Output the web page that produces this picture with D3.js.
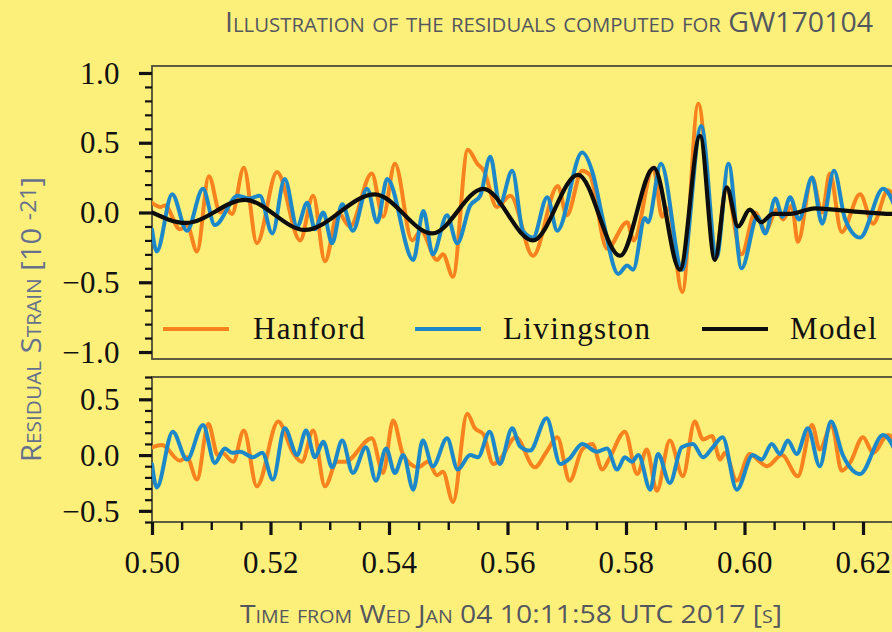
<!DOCTYPE html>
<html><head><meta charset="utf-8">
<script src="https://cdn.jsdelivr.net/npm/d3@7/dist/d3.min.js"></script>
<style>
html,body{margin:0;padding:0;background:#fbef7b;}
svg{display:block;}
</style></head><body>
<svg id="chart" width="892" height="632"></svg>
<script>
// ---------- DATA ----------
const titleText = "Illustration of the residuals computed for GW170104";
const xLabelText = "Time from Wed Jan 04 10:11:58 UTC 2017 [s]";
const seriesNames = ["Hanford", "Livingston", "Model"];

const xMajorTicks = [0.50, 0.52, 0.54, 0.56, 0.58, 0.60, 0.62];
const topMajorTicks = [-1.0, -0.5, 0.0, 0.5, 1.0];
const bottomMajorTicks = [-0.5, 0.0, 0.5];

// [time (s), strain (1e-21)]
const modelTop = [[0.5000,0.00],[0.5057,-0.075],[0.5157,0.09],[0.5258,-0.125],[0.5376,0.13],[0.5473,-0.15],[0.5559,0.17],[0.5643,-0.20],[0.5719,0.27],[0.5790,-0.31],[0.5847,0.32],[0.5891,-0.41],[0.5925,0.55],[0.5950,-0.34],[0.5970,0.18],[0.5989,-0.10],[0.6009,0.02],[0.6028,-0.07],[0.6048,-0.01],[0.6077,-0.01],[0.6119,0.03],[0.6178,0.01],[0.6249,-0.01],[0.6300,-0.01]];

const hanfordTop = [[0.5000,0.07],[0.5014,0.04],[0.5022,0.05],[0.5047,-0.12],[0.5059,-0.09],[0.5076,-0.28],[0.5096,0.26],[0.5115,0.00],[0.5123,0.04],[0.5135,-0.01],[0.5155,0.32],[0.5177,-0.22],[0.5211,0.29],[0.5250,-0.20],[0.5272,0.12],[0.5292,-0.35],[0.5314,0.00],[0.5334,-0.10],[0.5371,0.28],[0.5390,-0.03],[0.5410,0.35],[0.5439,-0.20],[0.5454,-0.13],[0.5481,-0.34],[0.5491,-0.30],[0.5508,-0.46],[0.5533,0.45],[0.5549,0.35],[0.5560,0.30],[0.5582,0.04],[0.5605,0.12],[0.5643,-0.31],[0.5685,0.19],[0.5700,-0.02],[0.5726,0.30],[0.5739,0.27],[0.5768,-0.26],[0.5802,-0.07],[0.5813,-0.20],[0.5846,0.32],[0.5861,-0.03],[0.5871,0.03],[0.5895,-0.57],[0.5922,0.78],[0.5951,-0.32],[0.5969,0.18],[0.5995,-0.30],[0.6018,0.00],[0.6035,-0.13],[0.6055,0.02],[0.6065,-0.05],[0.6080,0.05],[0.6090,-0.21],[0.6114,0.25],[0.6131,0.00],[0.6144,0.28],[0.6164,-0.14],[0.6195,0.13],[0.6217,-0.08],[0.6242,0.16],[0.6262,0.00]];

const livingstonTop = [[0.5000,-0.12],[0.5008,-0.28],[0.5034,0.13],[0.5059,-0.13],[0.5086,0.17],[0.5106,-0.09],[0.5145,0.12],[0.5164,0.10],[0.5182,0.12],[0.5203,-0.15],[0.5224,0.24],[0.5245,-0.10],[0.5262,0.07],[0.5275,-0.12],[0.5289,0.00],[0.5304,-0.22],[0.5321,0.06],[0.5339,-0.13],[0.5363,0.17],[0.5380,-0.07],[0.5397,0.24],[0.5441,-0.34],[0.5458,0.01],[0.5474,-0.30],[0.5498,-0.02],[0.5515,-0.22],[0.5537,0.05],[0.5554,0.12],[0.5571,0.40],[0.5587,0.06],[0.5608,0.30],[0.5626,-0.13],[0.5643,-0.18],[0.5667,0.11],[0.5684,-0.13],[0.5726,0.43],[0.5744,0.28],[0.5761,-0.05],[0.5787,-0.44],[0.5802,-0.38],[0.5812,-0.41],[0.5832,-0.04],[0.5837,-0.07],[0.5859,0.35],[0.5895,-0.41],[0.5927,0.62],[0.5953,-0.32],[0.5973,0.35],[0.5995,-0.40],[0.6022,-0.03],[0.6035,-0.15],[0.6052,0.10],[0.6064,-0.03],[0.6077,0.11],[0.6092,-0.05],[0.6114,0.25],[0.6131,-0.08],[0.6151,0.30],[0.6170,-0.05],[0.6195,-0.18],[0.6234,0.17],[0.6262,-0.05]];

const hanfordRes = [[0.5000,0.07],[0.5017,0.09],[0.5047,-0.05],[0.5059,-0.02],[0.5076,-0.22],[0.5095,0.28],[0.5111,0.00],[0.5118,0.02],[0.5137,-0.06],[0.5155,0.22],[0.5177,-0.28],[0.5213,0.30],[0.5238,0.02],[0.5253,-0.06],[0.5272,0.22],[0.5292,-0.28],[0.5312,-0.06],[0.5326,-0.06],[0.5371,0.15],[0.5390,-0.16],[0.5407,0.31],[0.5424,0.00],[0.5449,-0.11],[0.5466,-0.06],[0.5481,-0.18],[0.5491,-0.15],[0.5508,-0.42],[0.5532,0.37],[0.5545,0.24],[0.5559,0.19],[0.5576,-0.08],[0.5587,-0.04],[0.5614,0.16],[0.5646,-0.11],[0.5666,0.03],[0.5684,0.16],[0.5705,-0.23],[0.5726,0.05],[0.5743,0.10],[0.5760,-0.13],[0.5773,-0.02],[0.5798,0.21],[0.5819,-0.17],[0.5835,0.05],[0.5852,-0.32],[0.5874,0.13],[0.5896,-0.19],[0.5916,0.30],[0.5930,0.14],[0.5945,0.17],[0.5959,-0.04],[0.5967,0.02],[0.5987,-0.23],[0.6009,0.01],[0.6026,-0.06],[0.6038,-0.10],[0.6063,0.00],[0.6090,-0.19],[0.6114,0.27],[0.6127,0.05],[0.6147,0.27],[0.6164,-0.14],[0.6178,-0.07],[0.6200,0.16],[0.6217,0.02],[0.6242,0.18],[0.6262,0.05]];

const livingstonRes = [[0.5000,-0.08],[0.5008,-0.29],[0.5035,0.21],[0.5059,-0.04],[0.5086,0.27],[0.5106,-0.07],[0.5123,0.06],[0.5135,0.02],[0.5149,0.03],[0.5170,-0.02],[0.5186,0.02],[0.5204,-0.22],[0.5224,0.24],[0.5245,0.00],[0.5260,0.22],[0.5275,-0.02],[0.5289,0.12],[0.5304,-0.11],[0.5321,0.13],[0.5339,-0.16],[0.5361,0.07],[0.5378,-0.23],[0.5395,0.06],[0.5410,-0.16],[0.5424,0.00],[0.5441,-0.31],[0.5457,0.13],[0.5474,-0.10],[0.5498,0.15],[0.5516,-0.13],[0.5537,0.00],[0.5550,-0.02],[0.5570,0.21],[0.5587,-0.08],[0.5608,0.24],[0.5621,0.08],[0.5638,0.04],[0.5666,0.33],[0.5689,-0.08],[0.5705,-0.03],[0.5726,0.10],[0.5751,0.03],[0.5768,0.06],[0.5785,-0.13],[0.5798,-0.02],[0.5810,-0.06],[0.5821,0.00],[0.5841,-0.31],[0.5854,0.01],[0.5874,-0.25],[0.5894,0.07],[0.5913,0.10],[0.5930,-0.02],[0.5945,0.06],[0.5963,0.16],[0.5987,-0.31],[0.6014,0.00],[0.6029,-0.04],[0.6046,0.10],[0.6060,0.01],[0.6073,0.13],[0.6088,0.01],[0.6107,0.24],[0.6127,-0.10],[0.6146,0.30],[0.6166,0.00],[0.6195,-0.17],[0.6234,0.18],[0.6262,-0.05]];

// ---------- STYLE / LAYOUT ----------
const colors = {Hanford: "#f7821e", Livingston: "#1d88c9", Model: "#0d0d0d"};
const bg = "#fcf07b";
const serif = "'Liberation Serif', 'DejaVu Serif', serif";
const sans = "'Open Sans', 'Lato', sans-serif";

const svg = d3.select("#chart");
svg.append("rect").attr("width", 892).attr("height", 632).attr("fill", bg);

const x = d3.scaleLinear().domain([0.50, 0.63]).range([152, 152 + 0.13 * 5925]);
const yTop = d3.scaleLinear().domain([-1.05, 1.05]).range([359, 66]);
const yBot = d3.scaleLinear().domain([-0.6, 0.7]).range([522, 377]);

const fmtMinus = v => (v < 0 ? "\u2212" : "") + Math.abs(v).toFixed(1);

svg.append("clipPath").attr("id", "clipTop").append("rect")
  .attr("x", x(0.5)).attr("y", yTop(1.05)).attr("width", 900).attr("height", yTop(-1.05) - yTop(1.05));
svg.append("clipPath").attr("id", "clipBot").append("rect")
  .attr("x", x(0.5)).attr("y", yBot(0.7)).attr("width", 900).attr("height", yBot(-0.6) - yBot(0.7));

function frame(y) {
  const [y0, y1] = y.range();
  svg.append("rect")
    .attr("x", x(0.5)).attr("y", y1).attr("width", 900).attr("height", y0 - y1)
    .attr("fill", "none").attr("stroke", "#4f4c38").attr("stroke-width", 1.8);
}

function yAxis(y, major, minorRange) {
  const gMin = svg.append("g").attr("transform", `translate(${x(0.5)},0)`)
    .call(d3.axisLeft(y).tickValues(minorRange).tickSize(7).tickFormat(""));
  gMin.select(".domain").remove();
  gMin.selectAll("line").attr("stroke", "#111").attr("stroke-width", 2.2);
  const g = svg.append("g").attr("transform", `translate(${x(0.5)},0)`)
    .call(d3.axisLeft(y).tickValues(major).tickSize(13).tickPadding(19).tickFormat(fmtMinus));
  g.select(".domain").remove();
  g.selectAll("line").attr("stroke", "#111").attr("stroke-width", 3.2);
  g.selectAll("text").attr("font-family", serif).attr("font-size", 31).attr("fill", "#111")
    .attr("dy", "0.33em").attr("letter-spacing", 0.4);
}

function drawSeries(data, y, color, width, clip) {
  const line = d3.line().x(d => x(d[0])).y(d => y(d[1])).curve(d3.curveMonotoneX);
  svg.append("path").datum(data).attr("d", line)
    .attr("fill", "none").attr("stroke", color).attr("stroke-width", width)
    .attr("stroke-linejoin", "round").attr("stroke-linecap", "round")
    .attr("clip-path", `url(#${clip})`);
}

// Top panel
frame(yTop);
drawSeries(hanfordTop, yTop, colors.Hanford, 4, "clipTop");
drawSeries(livingstonTop, yTop, colors.Livingston, 4, "clipTop");
drawSeries(modelTop, yTop, colors.Model, 4.2, "clipTop");
yAxis(yTop, topMajorTicks, d3.range(-10, 11).map(i => i / 10).filter(v => !topMajorTicks.some(m => Math.abs(m - v) < 1e-9)));

// Bottom panel
frame(yBot);
drawSeries(hanfordRes, yBot, colors.Hanford, 4, "clipBot");
drawSeries(livingstonRes, yBot, colors.Livingston, 4, "clipBot");
yAxis(yBot, bottomMajorTicks, d3.range(-6, 8).map(i => i / 10).filter(v => !bottomMajorTicks.some(m => Math.abs(m - v) < 1e-9)));

// X axis
const xMinor = d3.range(100, 127).map(i => i * 0.005).filter(v => !xMajorTicks.some(m => Math.abs(m - v) < 1e-9));
const gxMin = svg.append("g").attr("transform", `translate(0,${yBot(-0.6)})`)
  .call(d3.axisBottom(x).tickValues(xMinor).tickSize(8).tickFormat(""));
gxMin.select(".domain").remove();
gxMin.selectAll("line").attr("stroke", "#111").attr("stroke-width", 2.4);
const gx = svg.append("g").attr("transform", `translate(0,${yBot(-0.6)})`)
  .call(d3.axisBottom(x).tickValues(xMajorTicks).tickSize(13).tickFormat(d3.format(".2f")));
gx.select(".domain").remove();
gx.selectAll("line").attr("stroke", "#111").attr("stroke-width", 3.2);
gx.selectAll("text").attr("font-family", serif).attr("font-size", 31).attr("fill", "#111")
  .attr("y", 51).attr("dy", 0).attr("letter-spacing", 0.4);

// Legend
const legendY = 329;
const legendItems = [
  {name: seriesNames[0], x0: 163, tx: 253},
  {name: seriesNames[1], x0: 415, tx: 503},
  {name: seriesNames[2], x0: 702, tx: 790}
];
legendItems.forEach(it => {
  svg.append("line").attr("x1", it.x0).attr("x2", it.x0 + 66).attr("y1", legendY).attr("y2", legendY)
    .attr("stroke", colors[it.name]).attr("stroke-width", 4);
  svg.append("text").attr("x", it.tx).attr("y", legendY + 10).text(it.name)
    .attr("font-family", serif).attr("font-size", 31).attr("fill", "#111").attr("letter-spacing", 1.4);
});

// Title
svg.append("text").attr("x", 225).attr("y", 32).text(titleText)
  .attr("font-family", sans).attr("font-size", 28).attr("fill", "#55575f")
  .style("font-variant", "small-caps")
  .attr("textLength", 648).attr("lengthAdjust", "spacingAndGlyphs");

// X label
svg.append("text").attr("x", 240).attr("y", 623).text(xLabelText)
  .attr("font-family", sans).attr("font-size", 26).attr("fill", "#55575f")
  .style("font-variant", "small-caps")
  .attr("textLength", 542).attr("lengthAdjust", "spacingAndGlyphs");

// Y label
const yl = svg.append("text").attr("transform", "translate(41,462) rotate(-90)")
  .attr("font-family", sans).attr("font-size", 28).attr("fill", "#66708c")
  .style("font-variant", "small-caps")
  .attr("textLength", 285).attr("lengthAdjust", "spacingAndGlyphs");
yl.append("tspan").text("Residual Strain [10 ");
yl.append("tspan").attr("font-size", 22).attr("dy", -5).text("-21");
yl.append("tspan").attr("dy", 5).text("]");
</script>
</body></html>
